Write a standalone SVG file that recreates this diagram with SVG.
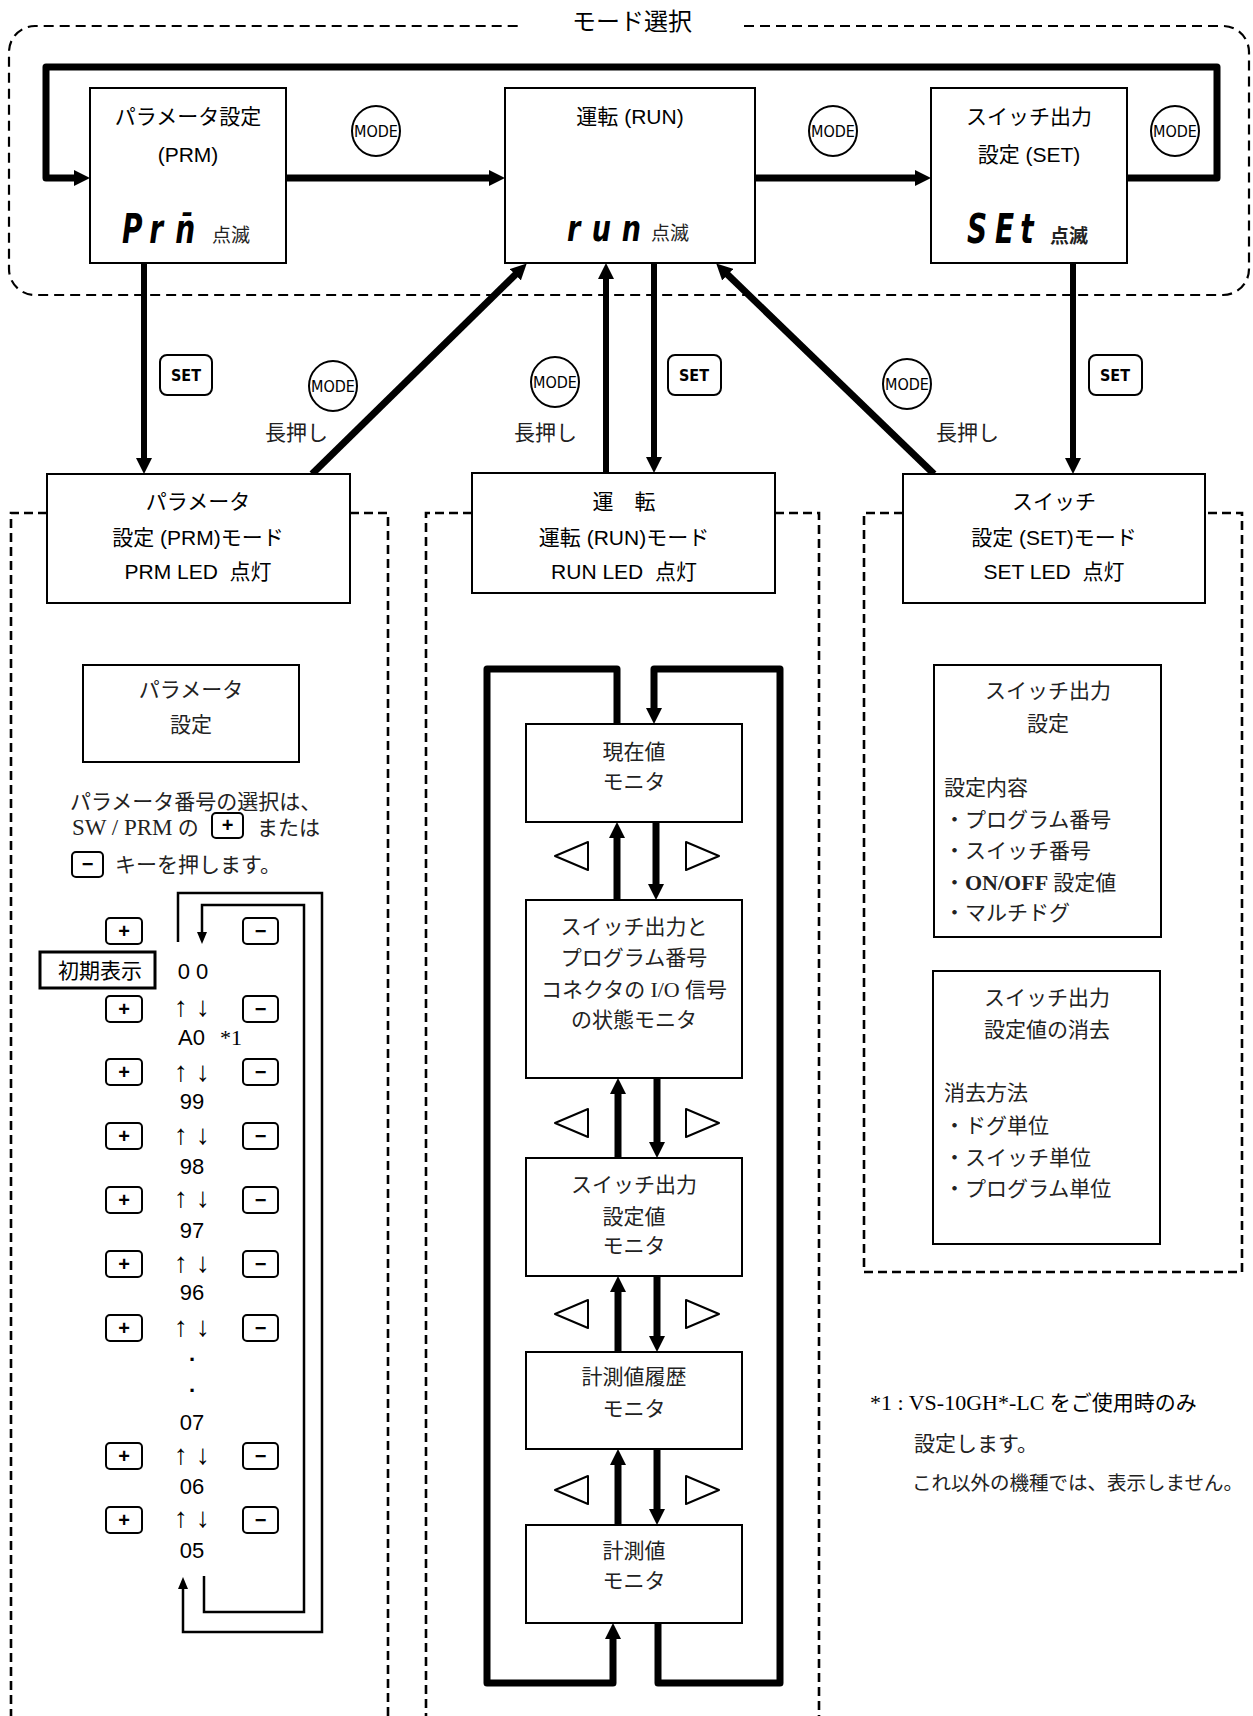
<svg xmlns="http://www.w3.org/2000/svg" width="1253" height="1716" viewBox="0 0 1253 1716">
<defs>
<style>
.box{fill:#fff;stroke:#000;stroke-width:2}
.thick{fill:none;stroke:#000;stroke-width:7;stroke-linejoin:round}
.mid{fill:none;stroke:#000;stroke-width:6}
.thin{fill:none;stroke:#000;stroke-width:2.5}
.dash{fill:none;stroke:#000;stroke-width:2.6;stroke-dasharray:9 5}
.dash2{fill:none;stroke:#000;stroke-width:2.2;stroke-dasharray:10 6}
.g{font-family:"Liberation Sans","Noto Sans CJK JP",sans-serif;font-size:21px;fill:#000}
.m{font-family:"Liberation Serif","Noto Sans CJK JP",serif;font-size:21px;fill:#222}
.lat{font-size:23px}
.seg{font-family:"DejaVu Sans",sans-serif;font-weight:bold;font-style:italic;font-size:40px}
.sm{font-family:"Noto Sans CJK JP",sans-serif;font-size:19px;fill:#222}
.key{fill:#fff;stroke:#000;stroke-width:2}
.kt{font-family:"Liberation Sans","DejaVu Sans",sans-serif;font-weight:bold;font-size:20px;text-anchor:middle}
.mode{font-family:"Liberation Sans Narrow","DejaVu Sans Condensed",sans-serif;font-size:16px;text-anchor:middle}
.set{font-family:"Liberation Sans Narrow","DejaVu Sans Condensed",sans-serif;font-weight:bold;font-size:16px;text-anchor:middle}
.c{text-anchor:middle}
.arr{font-size:28px}
.tri{fill:#fff;stroke:#000;stroke-width:2;stroke-linejoin:round}
</style>
<marker id="a7" viewBox="0 0 16 16" refX="1" refY="8" markerWidth="16" markerHeight="16" markerUnits="userSpaceOnUse" orient="auto"><path d="M0,0 L16,8 L0,16 z"/></marker>
<marker id="a3" viewBox="0 0 12 10" refX="1" refY="5" markerWidth="12" markerHeight="10" markerUnits="userSpaceOnUse" orient="auto"><path d="M0,0 L12,5 L0,10 z"/></marker>
</defs>
<rect width="1253" height="1716" fill="#fff"/>

<!-- frames -->
<g id="frames">
<path class="dash2" d="M744,26 H1223 A26,26 0 0 1 1249,52 V269 A26,26 0 0 1 1223,295 H35 A26,26 0 0 1 9,269 V52 A26,26 0 0 1 35,26 H520"/>
<text class="g c" x="632" y="30" style="font-size:24px">モード選択</text>
<path class="dash" d="M47,513 H11 V1716 M350,513 H388 V1716"/>
<path class="dash" d="M472,513 H426 V1716 M775,513 H819 V1716"/>
<path class="dash" d="M903,513 H864 V1272 H1242 V513 H1205"/>
</g>

<!-- connectors -->
<g id="connectors">
<path class="thick" d="M1127,178 H1217 V67 H46 V178 H75" marker-end="url(#a7)"/>
<path class="thick" d="M286,178 H490" marker-end="url(#a7)"/>
<path class="thick" d="M755,178 H916" marker-end="url(#a7)"/>
<path class="mid" d="M144,263 V459" marker-end="url(#a7)"/>
<path class="mid" d="M606,473 V278" marker-end="url(#a7)"/>
<path class="mid" d="M654,263 V458" marker-end="url(#a7)"/>
<path class="mid" d="M1073,263 V459" marker-end="url(#a7)"/>
<path class="thick" d="M312,474 L516,274" marker-end="url(#a7)"/>
<path class="thick" d="M934,474 L727,274" marker-end="url(#a7)"/>
<path class="thick" d="M617,724 V669 H487 V1683 H613 V1638" marker-end="url(#a7)"/>
<path class="thick" d="M658,1623 V1683 H780 V669 H654 V709" marker-end="url(#a7)"/>
<path class="thick" d="M617,900 V837" marker-end="url(#a7)"/>
<path class="thick" d="M656,822 V885" marker-end="url(#a7)"/>
<path class="thick" d="M618,1158 V1093" marker-end="url(#a7)"/>
<path class="thick" d="M657,1078 V1143" marker-end="url(#a7)"/>
<path class="thick" d="M618,1352 V1291" marker-end="url(#a7)"/>
<path class="thick" d="M657,1276 V1337" marker-end="url(#a7)"/>
<path class="thick" d="M618,1525 V1464" marker-end="url(#a7)"/>
<path class="thick" d="M657,1449 V1510" marker-end="url(#a7)"/>
<path class="thin" d="M178,942 V893 H322 V1632 H183 V1588" marker-end="url(#a3)"/>
<path class="thin" d="M204,1576 V1612 H304 V905 H202 V933" marker-end="url(#a3)"/>
</g>

<!-- key symbols on connectors -->
<g id="keys">
<ellipse class="key" cx="376" cy="131" rx="24" ry="25"/><text class="mode" x="376" y="137">MODE</text>
<ellipse class="key" cx="833" cy="131" rx="24" ry="25"/><text class="mode" x="833" y="137">MODE</text>
<ellipse class="key" cx="1175" cy="131" rx="24" ry="25"/><text class="mode" x="1175" y="137">MODE</text>
<ellipse class="key" cx="333" cy="386" rx="24" ry="25"/><text class="mode" x="333" y="392">MODE</text>
<ellipse class="key" cx="555" cy="382" rx="24" ry="25"/><text class="mode" x="555" y="388">MODE</text>
<ellipse class="key" cx="907" cy="384" rx="24" ry="25"/><text class="mode" x="907" y="390">MODE</text>
<rect class="key" x="160" y="355" width="52" height="40" rx="7"/><text class="set" x="186" y="381">SET</text>
<rect class="key" x="668" y="355" width="53" height="40" rx="7"/><text class="set" x="694" y="381">SET</text>
<rect class="key" x="1089" y="355" width="53" height="40" rx="7"/><text class="set" x="1115" y="381">SET</text>
<text class="m" x="265" y="440">長押し</text>
<text class="m" x="514" y="440">長押し</text>
<text class="m" x="936" y="440">長押し</text>
</g>

<!-- top nodes -->
<g id="node-prm">
<rect class="box" x="90" y="88" width="196" height="175"/>
<text class="g c" x="188" y="124">パラメータ設定</text>
<text class="g c" x="188" y="162">(PRM)</text>
<text class="seg" transform="translate(122,243) scale(0.7,1)"><tspan x="0">P</tspan><tspan x="39">r</tspan><tspan x="76">n&#772;</tspan></text>
<text class="sm" x="212" y="242">点滅</text>
</g>
<g id="node-run">
<rect class="box" x="505" y="88" width="250" height="175"/>
<text class="g c" x="630" y="124">運転 (RUN)</text>
<text class="seg" style="font-size:36px" transform="translate(567,241) scale(0.75,1)"><tspan x="0">r</tspan><tspan x="33">u</tspan><tspan x="73">n</tspan></text>
<text class="sm" x="651" y="240">点滅</text>
</g>
<g id="node-set">
<rect class="box" x="931" y="88" width="196" height="175"/>
<text class="g c" x="1029" y="124">スイッチ出力</text>
<text class="g c" x="1029" y="162">設定 (SET)</text>
<text class="seg" transform="translate(967,243) scale(0.7,1)"><tspan x="0">S</tspan><tspan x="40">E</tspan><tspan x="76">t</tspan></text>
<text class="sm" x="1050" y="243" font-weight="bold">点滅</text>
</g>

<!-- mode nodes -->
<g id="node-prm-mode">
<rect class="box" x="47" y="474" width="303" height="129"/>
<text class="g c" x="198" y="509">パラメータ</text>
<text class="g c" x="198" y="545">設定 (PRM)モード</text>
<text class="g c" x="198" y="579">PRM LED&#160; 点灯</text>
</g>
<g id="node-run-mode">
<rect class="box" x="472" y="473" width="303" height="120"/>
<text class="g c" x="624" y="509">運　転</text>
<text class="g c" x="624" y="545">運転 (RUN)モード</text>
<text class="g c" x="624" y="579">RUN LED&#160; 点灯</text>
</g>
<g id="node-set-mode">
<rect class="box" x="903" y="474" width="302" height="129"/>
<text class="g c" x="1054" y="509">スイッチ</text>
<text class="g c" x="1054" y="545">設定 (SET)モード</text>
<text class="g c" x="1054" y="579">SET LED&#160; 点灯</text>
</g>

<!-- PRM column -->
<g id="node-param-set">
<rect class="box" x="83" y="665" width="216" height="97"/>
<text class="m c" x="191" y="697">パラメータ</text>
<text class="m c" x="191" y="732">設定</text>
</g>
<g id="param-desc">
<text class="m" x="70" y="809">パラメータ番号の選択は、</text>
<text class="m" x="72" y="835"><tspan class="lat">SW / PRM</tspan> の</text>
<rect class="key" x="212" y="813" width="31" height="25" rx="4"/><text class="kt" x="227.5" y="832">+</text>
<text class="m" x="257" y="835">または</text>
<rect class="key" x="72" y="852" width="31" height="25" rx="4"/><text class="kt" x="87.5" y="871">−</text>
<text class="m" x="115" y="872">キーを押します。</text>
</g>
<g id="param-list">
<rect x="40" y="952" width="115" height="36" fill="#fff" stroke="#000" stroke-width="3"/>
<text class="g c" x="100" y="978">初期表示</text>
<g id="plus-keys">
<rect class="key" x="106" y="918" width="36" height="26" rx="4"/><text class="kt" x="124" y="938">+</text>
<rect class="key" x="106" y="996" width="36" height="26" rx="4"/><text class="kt" x="124" y="1016">+</text>
<rect class="key" x="106" y="1059" width="36" height="26" rx="4"/><text class="kt" x="124" y="1079">+</text>
<rect class="key" x="106" y="1123" width="36" height="26" rx="4"/><text class="kt" x="124" y="1143">+</text>
<rect class="key" x="106" y="1187" width="36" height="26" rx="4"/><text class="kt" x="124" y="1207">+</text>
<rect class="key" x="106" y="1251" width="36" height="26" rx="4"/><text class="kt" x="124" y="1271">+</text>
<rect class="key" x="106" y="1315" width="36" height="26" rx="4"/><text class="kt" x="124" y="1335">+</text>
<rect class="key" x="106" y="1443" width="36" height="26" rx="4"/><text class="kt" x="124" y="1463">+</text>
<rect class="key" x="106" y="1507" width="36" height="26" rx="4"/><text class="kt" x="124" y="1527">+</text>
</g>
<g id="minus-keys">
<rect class="key" x="243" y="918" width="35" height="26" rx="4"/><text class="kt" x="260.5" y="938">−</text>
<rect class="key" x="243" y="996" width="35" height="26" rx="4"/><text class="kt" x="260.5" y="1016">−</text>
<rect class="key" x="243" y="1059" width="35" height="26" rx="4"/><text class="kt" x="260.5" y="1079">−</text>
<rect class="key" x="243" y="1123" width="35" height="26" rx="4"/><text class="kt" x="260.5" y="1143">−</text>
<rect class="key" x="243" y="1187" width="35" height="26" rx="4"/><text class="kt" x="260.5" y="1207">−</text>
<rect class="key" x="243" y="1251" width="35" height="26" rx="4"/><text class="kt" x="260.5" y="1271">−</text>
<rect class="key" x="243" y="1315" width="35" height="26" rx="4"/><text class="kt" x="260.5" y="1335">−</text>
<rect class="key" x="243" y="1443" width="35" height="26" rx="4"/><text class="kt" x="260.5" y="1463">−</text>
<rect class="key" x="243" y="1507" width="35" height="26" rx="4"/><text class="kt" x="260.5" y="1527">−</text>
</g>
<g class="g" style="font-size:22px">
<text class="c" x="193" y="979">0 0</text>
<text class="c arr" x="192" y="1016">↑ ↓</text>
<text x="178" y="1045">A0</text><text class="m" x="220" y="1045" style="fill:#000;font-size:22px">*1</text>
<text class="c arr" x="192" y="1081">↑ ↓</text>
<text class="c" x="192" y="1109">99</text>
<text class="c arr" x="192" y="1144">↑ ↓</text>
<text class="c" x="192" y="1174">98</text>
<text class="c arr" x="192" y="1207">↑ ↓</text>
<text class="c" x="192" y="1238">97</text>
<text class="c arr" x="192" y="1272">↑ ↓</text>
<text class="c" x="192" y="1300">96</text>
<text class="c arr" x="192" y="1336">↑ ↓</text>
<text class="c" x="192" y="1361" font-weight="bold">.</text>
<text class="c" x="192" y="1392" font-weight="bold">.</text>
<text class="c" x="192" y="1430">07</text>
<text class="c arr" x="192" y="1464">↑ ↓</text>
<text class="c" x="192" y="1494">06</text>
<text class="c arr" x="192" y="1527">↑ ↓</text>
<text class="c" x="192" y="1558">05</text>
</g>
</g>

<!-- RUN column -->
<g id="node-current">
<rect class="box" x="526" y="724" width="216" height="98"/>
<text class="m c" x="634" y="759">現在値</text>
<text class="m c" x="634" y="789">モニタ</text>
</g>
<g id="node-io">
<rect class="box" x="526" y="900" width="216" height="178"/>
<text class="m c" x="634" y="934">スイッチ出力と</text>
<text class="m c" x="634" y="965">プログラム番号</text>
<text class="m c" x="634" y="997">コネクタの <tspan class="lat" style="font-size:22px">I/O</tspan> 信号</text>
<text class="m c" x="634" y="1027">の状態モニタ</text>
</g>
<g id="node-swset">
<rect class="box" x="526" y="1158" width="216" height="118"/>
<text class="m c" x="634" y="1192">スイッチ出力</text>
<text class="m c" x="634" y="1224">設定値</text>
<text class="m c" x="634" y="1253">モニタ</text>
</g>
<g id="node-history">
<rect class="box" x="526" y="1352" width="216" height="97"/>
<text class="m c" x="634" y="1384">計測値履歴</text>
<text class="m c" x="634" y="1416">モニタ</text>
</g>
<g id="node-measure">
<rect class="box" x="526" y="1525" width="216" height="98"/>
<text class="m c" x="634" y="1558">計測値</text>
<text class="m c" x="634" y="1588">モニタ</text>
</g>
<g id="triangles">
<polygon class="tri" points="588,842 555,856 588,870"/><polygon class="tri" points="686,842 719,856 686,870"/>
<polygon class="tri" points="588,1109 555,1123 588,1137"/><polygon class="tri" points="686,1109 719,1123 686,1137"/>
<polygon class="tri" points="588,1300 555,1314 588,1328"/><polygon class="tri" points="686,1300 719,1314 686,1328"/>
<polygon class="tri" points="588,1476 555,1490 588,1504"/><polygon class="tri" points="686,1476 719,1490 686,1504"/>
</g>

<!-- SET column -->
<g id="node-sw-setting">
<rect class="box" x="934" y="665" width="227" height="272"/>
<text class="m c" x="1048" y="698">スイッチ出力</text>
<text class="m c" x="1048" y="731">設定</text>
<text class="m" x="944" y="795">設定内容</text>
<text class="m" x="944" y="827">・プログラム番号</text>
<text class="m" x="944" y="858">・スイッチ番号</text>
<text class="m" x="944" y="890">・<tspan style="font-weight:bold;font-size:22px">ON/OFF</tspan> 設定値</text>
<text class="m" x="944" y="920">・マルチドグ</text>
</g>
<g id="node-sw-clear">
<rect class="box" x="933" y="971" width="227" height="273"/>
<text class="m c" x="1047" y="1005">スイッチ出力</text>
<text class="m c" x="1047" y="1037">設定値の消去</text>
<text class="m" x="944" y="1100">消去方法</text>
<text class="m" x="944" y="1133">・ドグ単位</text>
<text class="m" x="944" y="1165">・スイッチ単位</text>
<text class="m" x="944" y="1196">・プログラム単位</text>
</g>
<g id="footnote">
<text class="m" x="870" y="1410" style="fill:#000"><tspan class="lat" style="font-size:22px">*1 : VS-10GH*-LC</tspan> をご使用時のみ</text>
<text class="m" x="914" y="1451">設定します。</text>
<text class="m" x="912" y="1490" style="font-size:19.5px">これ以外の機種では、表示しません。</text>
</g>
</svg>
